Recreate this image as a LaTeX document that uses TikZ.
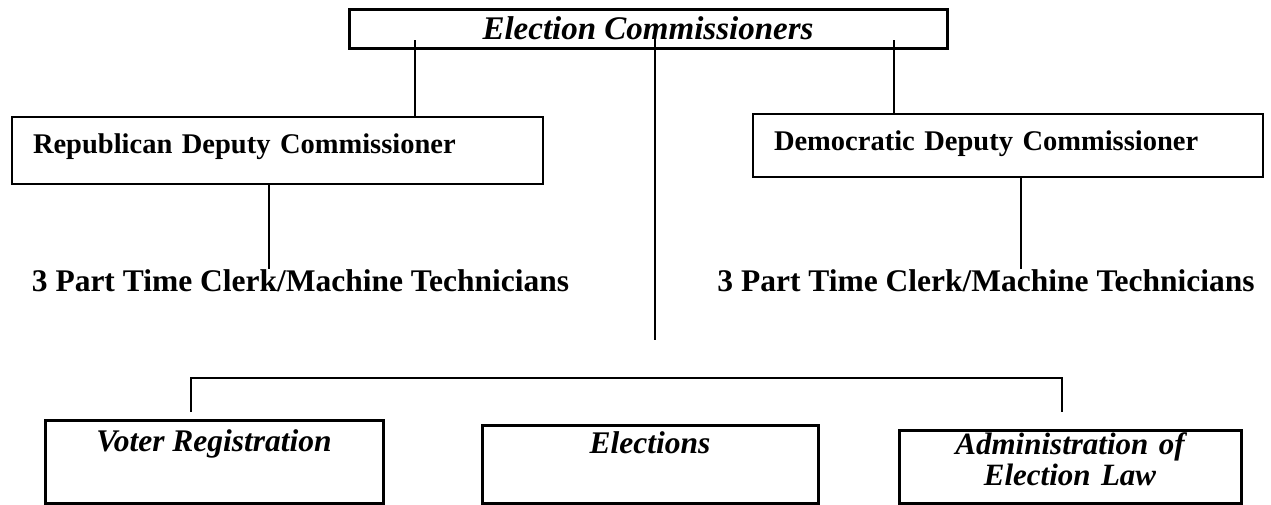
\documentclass[tikz,border=0pt]{standalone}
\usepackage{fontspec}
\setmainfont{Liberation Serif}
\begin{document}
\begin{tikzpicture}[x=1pt,y=-1pt,
  conn/.style={line width=1.5pt},
  topbox/.style={draw,line width=3pt,minimum width=598pt,minimum height=39pt,inner sep=0pt},
  depbox/.style={draw,line width=2pt,inner xsep=21pt,align=left,text height=21pt},
  unitbox/.style={draw,line width=3pt,inner sep=0pt,align=center,text height=21pt},
  clerk/.style={inner sep=0pt,font=\fontsize{31.5}{38}\selectfont\bfseries}
]
\useasboundingbox (0,0) rectangle (1271,504);
% top
\node[topbox,font=\fontsize{33}{40}\selectfont\bfseries\itshape] (top) at (648,28.5) {Election Commissioners};
% deputies
\node[depbox,text width=489pt,minimum height=67pt,text depth=16pt,
      font=\fontsize{28.5}{34}\selectfont\bfseries] (rep) at (277.5,150.5) {Republican Deputy Commissioner};
\node[depbox,text width=468pt,minimum height=63pt,text depth=12pt,
      font=\fontsize{28.5}{34}\selectfont\bfseries] (dem) at (1008,145.5) {Democratic Deputy Commissioner};
% clerks
\node[clerk,anchor=base] (clL) at (300.5,291) {3 Part Time Clerk/Machine Technicians};
\node[clerk,anchor=base] (clR) at (986,291) {3 Part Time Clerk/Machine Technicians};
% units
\node[unitbox,minimum width=338pt,minimum height=83pt,text depth=42pt,
      font=\fontsize{31.5}{36}\selectfont\bfseries\itshape] (voter) at (214,461.5) {Voter Registration};
\node[unitbox,minimum width=336pt,minimum height=78pt,text depth=42pt,
      font=\fontsize{31.5}{36}\selectfont\bfseries\itshape] (elec) at (650,464) {Elections};
\node[unitbox,minimum width=342pt,minimum height=73pt,text depth=45pt,text width=330pt,
      font=\fontsize{31}{31}\selectfont\bfseries\itshape] (admin) at (1070,466.5) {Administration of\\Election Law};
% coordinates
\coordinate (tl) at (415,40);
\coordinate (tm) at (655,38);
\coordinate (tmEnd) at (655,340);
\coordinate (tr) at (894,40);
\coordinate (xl) at (269,0);
\coordinate (xr) at (1021,0);
\coordinate (busL) at (191,378);
\coordinate (busR) at (1062,378);
\coordinate (dropL) at (191,412);
\coordinate (dropR) at (1062,412);
% connectors
\draw[conn] (tl) -- (rep.north -| tl);
\draw[conn] (tr) -- (dem.north -| tr);
\draw[conn] (tm) -- (tmEnd);
\draw[conn] (rep.south -| xl) -- (clL.north -| xl);
\draw[conn] (dem.south -| xr) -- (clR.north -| xr);
\draw[conn] (dropL) -- (busL) -- (busR) -- (dropR);
\end{tikzpicture}
\end{document}
